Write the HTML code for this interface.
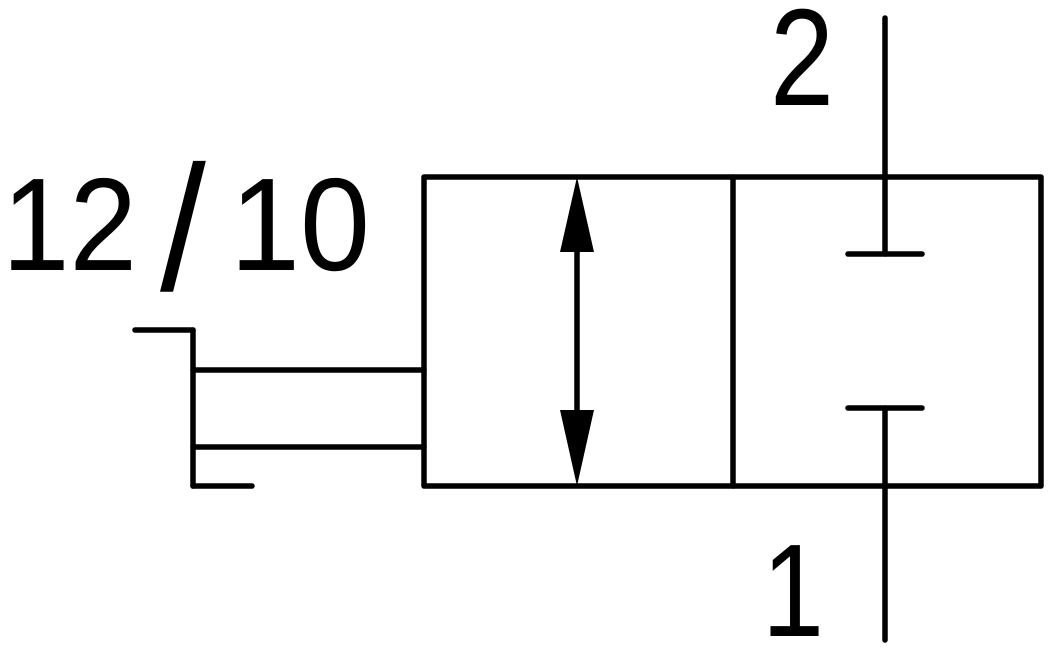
<!DOCTYPE html>
<html><head><style>html,body{margin:0;padding:0;background:#fff;}svg{display:block;}</style></head>
<body>
<svg width="1056" height="655" viewBox="0 0 1056 655" xmlns="http://www.w3.org/2000/svg">
<g stroke="#000" stroke-width="5.5" fill="none" stroke-linecap="round" stroke-linejoin="round">
<rect x="424" y="177" width="617" height="309"/>
<line x1="733" y1="177" x2="733" y2="486"/>
<line x1="885" y1="18" x2="885" y2="254"/>
<line x1="848" y1="254" x2="922" y2="254"/>
<line x1="848" y1="408" x2="922" y2="408"/>
<line x1="885" y1="408" x2="885" y2="640"/>
<line x1="135" y1="330" x2="193" y2="330"/>
<line x1="193" y1="330" x2="193" y2="486"/>
<line x1="193" y1="486" x2="252" y2="486"/>
<line x1="193" y1="370" x2="424" y2="370"/>
<line x1="193" y1="447" x2="424" y2="447"/>
<line x1="577" y1="240" x2="577" y2="420"/>
</g>
<polygon points="577,177 560,252 594,252" fill="#000"/>
<polygon points="577,486 560,410 594,410" fill="#000"/>
<g font-family="'Liberation Sans', 'DejaVu Sans', sans-serif" fill="#000">
<text x="2" y="270" font-size="132" textLength="135" lengthAdjust="spacingAndGlyphs">12</text>
<text transform="translate(160,290) scale(1.25,1.35)" x="0" y="0" font-size="132">/</text>
<text x="230" y="270" font-size="132" textLength="140" lengthAdjust="spacingAndGlyphs">10</text>
<text x="770" y="105" font-size="138" textLength="64" lengthAdjust="spacingAndGlyphs">2</text>
<text x="762" y="636" font-size="132" textLength="62" lengthAdjust="spacingAndGlyphs">1</text>
</g>
</svg>
</body></html>
